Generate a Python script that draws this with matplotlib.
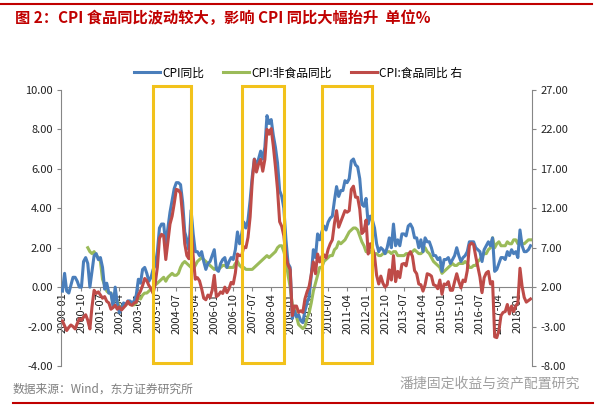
import numpy as np
import pandas as pd
import matplotlib
matplotlib.use("Agg")
import matplotlib.pyplot as plt
from matplotlib.patches import Rectangle
from matplotlib.lines import Line2D

plt.rcParams['font.family'] = ['Noto Sans CJK SC', 'DejaVu Sans']

# 月度数据 2000-01 ~ 2018-07
months = pd.date_range('2000-01-01', periods=223, freq='MS')

cpi = [
    -0.2, 0.7, -0.2, -0.3, 0.1, 0.5, 0.5, 0.3, 0.0, 0.0, 1.3, 1.5,
    1.2, 0.0, 0.8, 1.6, 1.7, 1.4, 1.5, 1.0, -0.1, 0.2, -0.3, -0.3,
    -1.0, 0.0, -0.8, -1.3, -1.1, -0.8, -0.9, -0.7, -0.7, -0.8, -0.7, -0.4,
    0.4, 0.2, 0.9, 1.0, 0.7, 0.3, 0.5, 0.9, 1.1, 1.8, 3.0, 3.2,
    3.2, 2.1, 3.0, 3.8, 4.4, 5.0, 5.3, 5.3, 5.2, 4.3, 2.8, 2.4,
    1.9, 3.9, 2.7, 1.8, 1.8, 1.6, 1.8, 1.3, 0.9, 1.2, 1.3, 1.6,
    1.9, 0.9, 0.8, 1.2, 1.4, 1.5, 1.0, 1.3, 1.5, 1.4, 1.9, 2.8,
    2.2, 2.7, 3.3, 3.0, 3.4, 4.4, 5.6, 6.5, 6.2, 6.5, 6.9, 6.5,
    7.1, 8.7, 8.3, 8.5, 7.7, 7.1, 6.3, 4.9, 4.6, 4.0, 2.4, 1.2,
    1.0, -1.6, -1.2, -1.5, -1.4, -1.7, -1.8, -1.2, -0.8, -0.5, 0.6, 1.9,
    1.5, 2.7, 2.4, 2.8, 3.1, 2.9, 3.3, 3.5, 3.6, 4.4, 5.1, 4.6,
    4.9, 4.9, 5.4, 5.3, 5.5, 6.4, 6.5, 6.2, 6.1, 5.5, 4.2, 4.1,
    4.5, 3.2, 3.6, 3.4, 3.0, 2.2, 1.8, 2.0, 1.9, 1.7, 2.0, 2.5,
    2.0, 3.2, 2.1, 2.4, 2.1, 2.7, 2.7, 2.6, 3.1, 3.2, 3.0, 2.5,
    2.5, 2.0, 2.4, 1.8, 2.5, 2.3, 2.3, 2.0, 1.6, 1.6, 1.4, 1.5,
    0.8, 1.4, 1.4, 1.5, 1.2, 1.4, 1.6, 2.0, 1.6, 1.3, 1.5, 1.6,
    1.8, 2.3, 2.3, 2.3, 2.0, 1.9, 1.8, 1.3, 1.9, 2.1, 2.3, 2.1,
    2.5, 0.8, 0.9, 1.2, 1.5, 1.5, 1.4, 1.8, 1.6, 1.9, 1.7, 1.8,
    1.5, 2.9, 2.1, 1.8, 1.8, 1.9, 2.1,
]

# 非食品从 2001-01 开始
nonfood_start = 12
nonfood = [
    2.0, 1.8, 1.7, 1.8, 1.6, 1.5, 1.3, 0.4, 0.1, -0.2, -0.3, -0.3,
    -0.8, -0.6, -0.7, -1.0, -1.0, -0.9, -0.9, -0.8, -0.8, -0.9, -0.9, -0.8,
    -0.5, -0.6, -0.4, -0.3, -0.3, -0.2, -0.1, 0.0, 0.1, 0.2, 0.3, 0.4,
    0.5, 0.3, 0.5, 0.6, 0.7, 0.6, 0.6, 0.7, 1.0, 1.2, 1.3, 1.2,
    1.1, 1.0, 0.9, 1.1, 1.3, 1.4, 1.5, 1.4, 1.3, 1.2, 1.1, 1.0,
    0.9, 1.0, 0.9, 1.0, 1.1, 1.1, 1.0, 1.0, 1.0, 1.0, 1.2, 1.3,
    1.1, 1.0, 1.0, 0.9, 0.9, 0.9, 0.9, 1.0, 1.1, 1.2, 1.3, 1.4,
    1.5, 1.6, 1.5, 1.6, 1.7, 1.8, 2.0, 2.1, 2.1, 1.8, 1.4, 0.6,
    0.0, -0.9, -1.0, -1.5, -1.9, -2.0, -2.1, -2.0, -1.6, -1.3, -0.8, -0.2,
    0.2, 0.6, 1.0, 1.0, 1.3, 1.4, 1.5, 1.6, 1.6, 1.9, 2.0, 2.3,
    2.2, 2.3, 2.4, 2.6, 2.8, 2.9, 3.0, 3.0, 2.9, 2.6, 2.3, 2.1,
    1.8, 1.9, 1.8, 1.7, 1.7, 1.7, 1.6, 1.6, 1.7, 1.7, 1.8, 1.8,
    1.7, 1.8, 1.8, 1.6, 1.6, 1.6, 1.6, 1.7, 1.7, 1.7, 1.8, 1.9,
    1.8, 1.7, 1.7, 1.8, 2.0, 1.8, 1.7, 1.5, 1.3, 1.2, 1.1, 1.0,
    0.7, 0.8, 0.9, 1.0, 1.1, 1.2, 1.1, 1.1, 1.2, 1.2, 1.2, 1.3,
    1.2, 1.0, 1.0, 1.1, 1.1, 1.3, 1.4, 1.6, 1.7, 1.7, 1.9, 2.0,
    2.5, 2.0, 2.2, 2.3, 2.1, 2.1, 2.1, 2.3, 2.2, 2.2, 2.4, 2.4,
    2.2, 2.5, 2.2, 2.2, 2.3, 2.4, 2.4,
]

# 食品（右轴）
food = [
    -2.3, -2.9, -3.5, -3.1, -2.8, -3.0, -3.3, -2.6, -2.0, -2.2, -1.8, -1.5,
    -2.2, -3.3, -0.5, 1.6, 1.2, 1.4, 1.0, 0.6, 0.8, 0.2, 0.0, -0.8,
    -0.6, -0.3, -0.8, -0.5, -0.9, -0.6, -0.3, 0.2, -0.2, -0.3, 0.0, 0.1,
    1.0, 1.5, 2.2, 3.1, 2.8, 2.2, 1.8, 1.2, 2.5, 4.5, 8.2, 8.7,
    8.5, 5.5, 7.7, 10.0, 11.0, 12.6, 14.4, 14.3, 13.9, 11.0, 7.5, 6.0,
    5.6, 9.9, 5.9, 3.0, 3.2, 2.8, 1.8, 0.6, 0.4, 1.0, 0.7, 1.6,
    3.5, 0.8, 1.0, 1.4, 1.2, 2.0, 1.3, 1.8, 2.6, 2.4, 3.8, 6.2,
    6.0, 6.0, 7.1, 7.0, 8.3, 10.9, 15.4, 18.2, 16.6, 17.6, 18.2, 16.7,
    18.2, 22.0, 21.4, 22.1, 19.9, 17.3, 14.4, 10.3, 9.7, 8.5, 5.9, 4.8,
    4.2, -1.6, -0.4, -0.4, -1.2, -1.0, -1.2, 0.5, 1.4, 2.1, 3.6, 5.2,
    3.7, 6.2, 5.2, 5.9, 6.1, 5.7, 6.8, 7.5, 8.0, 10.1, 11.7, 9.6,
    10.3, 11.0, 11.7, 11.5, 11.7, 14.4, 14.8, 13.4, 13.4, 11.9, 8.8, 9.1,
    10.5, 6.2, 7.5, 7.0, 6.0, 3.5, 2.4, 3.4, 2.5, 2.0, 2.3, 4.2,
    2.9, 6.0, 2.7, 4.0, 3.2, 4.9, 5.0, 4.7, 6.1, 6.5, 5.9, 4.1,
    3.7, 2.4, 2.3, 1.5, 2.3, 3.7, 3.6, 3.4, 2.3, 2.2, 1.8, 2.9,
    1.1, 2.4, 2.3, 2.7, 1.6, 1.6, 2.7, 3.7, 2.7, 1.9, 2.9, 2.7,
    4.1, 7.3, 7.6, 7.4, 5.9, 4.6, 3.3, 1.3, 3.2, 3.8, 4.0, 2.4,
    2.7, -4.3, -4.4, -3.5, -1.6, -1.2, -1.1, -0.2, -1.4, -0.4, -1.1, -0.4,
    0.0, 4.4, 2.1, 0.7, 0.1, 0.3, 0.5,
]

# 黄色框标注的时间段（月序号）以及上下边界（左轴单位）
boxes = [(43, 61), (85, 105), (123, 147)]
box_low, box_high = -3.85, 10.2

labels = ['CPI同比', 'CPI:非食品同比', 'CPI:食品同比 右']
c_blue, c_green, c_red = '#4A7EBB', '#9BBB59', '#BE4B48'
grey = '#868686'

fig = plt.figure(figsize=(6, 4.09), dpi=100)
ax = fig.add_axes([61 / 600, 1 - 366 / 409, (532 - 61) / 600, (366 - 90) / 409])
ax2 = ax.twinx()

x = np.arange(len(months))
ax.plot(x, cpi, color=c_blue, lw=2.2, zorder=3)
ax.plot(x[nonfood_start:nonfood_start + len(nonfood)], nonfood, color=c_green, lw=2.2, zorder=2)
ax2.plot(x, food, color=c_red, lw=2.2, zorder=2)

for a, b in boxes:
    ax2.add_patch(Rectangle((a, box_low), b - a, box_high - box_low, fill=False,
                            edgecolor='#F2C21B', lw=2.2, transform=ax.transData,
                            clip_on=False, zorder=5))

ax.set_xlim(-0.7, len(months) - 0.3)
ax.set_ylim(-4, 10)
ax2.set_ylim(-8, 27)
ax.set_yticks(np.arange(-4, 10.1, 2))
ax2.set_yticks(np.arange(-8, 27.1, 5))
ax.set_yticklabels([f'{v:.2f}' for v in np.arange(-4, 10.1, 2)])
ax2.set_yticklabels([f'{v:.2f}' for v in np.arange(-8, 27.1, 5)])

tick_pos = x[::9]
ax.set_xticks(tick_pos)
ax.set_xticklabels([months[i].strftime('%Y-%m') for i in tick_pos])

for a in (ax, ax2):
    a.spines['top'].set_visible(False)
    for s in a.spines.values():
        s.set_color(grey)
        s.set_linewidth(0.8)
ax.spines['bottom'].set_position(('data', 0))
ax2.spines['bottom'].set_visible(False)
ax.spines['right'].set_visible(False)
ax2.spines['left'].set_visible(False)

ax.tick_params(axis='y', labelsize=8, colors=grey, labelcolor='#222222', length=3, pad=3)
ax2.tick_params(axis='y', labelsize=8, colors=grey, labelcolor='#222222', length=3, pad=3)
ax.tick_params(axis='x', labelsize=8, colors=grey, labelcolor='#222222', length=3, pad=1,
               labelrotation=90)

handles = [Line2D([], [], color=c, lw=2.2) for c in (c_blue, c_green, c_red)]
fig.legend(handles, labels, loc='center', bbox_to_anchor=(0.497, 1 - 73 / 409), ncol=3,
           frameon=False, fontsize=8.5, handlelength=2.2, columnspacing=1.6, handletextpad=0.2)

fig.text(15 / 600, 1 - 18 / 409, '图 2：CPI 食品同比波动较大，影响 CPI 同比大幅抬升  单位%',
         color='#C00000', fontsize=11, fontweight='bold', va='center', ha='left')
fig.add_artist(Line2D([0, 592 / 600], [1 - 4 / 409, 1 - 4 / 409], color='#C00000', lw=1.5))
fig.add_artist(Line2D([13 / 600, 593 / 600], [1 - 403 / 409, 1 - 403 / 409], color='#C00000', lw=1.5))

fig.text(13 / 600, 1 - 389 / 409, '数据来源：Wind，东方证券研究所', color='#7F7F7F',
         fontsize=8.5, va='center', ha='left')
fig.text(580 / 600, 1 - 383 / 409, '潘捷固定收益与资产配置研究', color='#A0A0A0',
         fontsize=10, va='center', ha='right')

fig.savefig('out.png', dpi=100)
